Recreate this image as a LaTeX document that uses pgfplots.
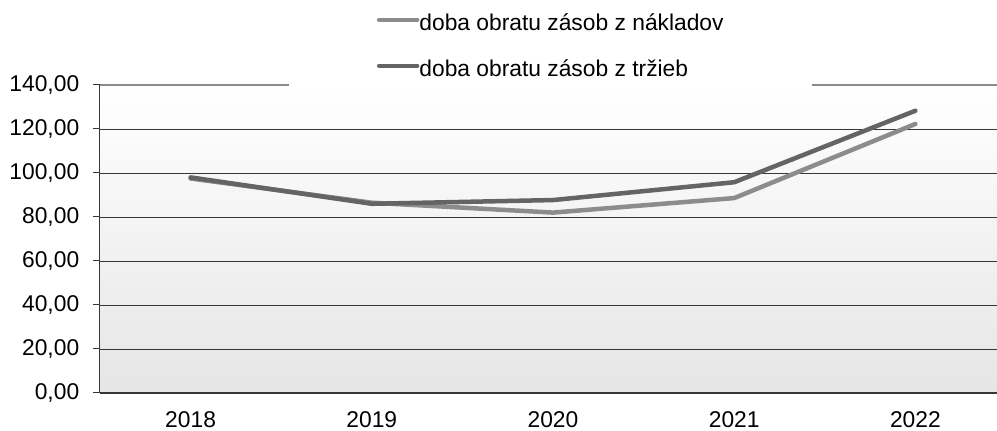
\documentclass[border=0pt]{standalone}
\usepackage{pgfplots}
\pgfplotsset{compat=1.18}
\usepackage{fontspec}
\setmainfont{Liberation Sans}
\definecolor{lightline}{RGB}{140,140,140}
\definecolor{darkline}{RGB}{100,100,100}
\definecolor{gridc}{RGB}{55,55,55}
\begin{document}
\fontsize{22.8}{27}\selectfont
\begin{tikzpicture}
\begin{axis}[
  at={(100pt,38pt)}, anchor=south west,
  scale only axis, width=906pt, height=308pt,
  xmin=-0.5, xmax=4.5, ymin=0, ymax=140,
  axis lines=left, axis line style={-, gridc, line width=1pt},
  axis background/.style={top color=white, bottom color=black!10},
  xtick={0,1,2,3,4},
  xticklabels={2018,2019,2020,2021,2022},
  major x tick style={draw=none},
  extra x ticks={-0.5,0.5,1.5,2.5,3.5},
  extra x tick labels={},
  extra x tick style={tick style={draw=gridc, line width=1pt}, major tick length=7pt, tick align=outside},
  ytick={0,20,...,120},
  extra y ticks={140},
  extra y tick style={grid style={draw=black!45, line width=1.2pt}},
  ymajorgrids, grid style={draw=gridc, line width=0.9pt},
  tick align=outside, major tick length=7pt,
  tick style={draw=gridc, line width=1pt},
  /pgf/number format/fixed, /pgf/number format/fixed zerofill, /pgf/number format/precision=2,
  /pgf/number format/use comma, /pgf/number format/assume math mode=true,
  ticklabel style={font=\fontsize{22.8}{27}\selectfont},
  yticklabel style={xshift=-6pt},
  xticklabel style={yshift=-4pt},
  legend style={at={(axis description cs:0.497,0.99)}, anchor=south, draw=none, fill=white,
    inner xsep=88pt, inner ysep=6pt, row sep=24pt,
    font=\fontsize{22.8}{27}\selectfont,
    nodes={inner sep=0pt, text height=17pt, text depth=5pt, anchor=west}},
  legend cell align=left,
  legend image code/.code={\draw[#1, line cap=round] (0pt,5pt) -- (38pt,5pt);},
]
\addplot[lightline, line width=4.5pt, line join=round, line cap=round] coordinates {(0,97.5) (1,86.5) (2,82) (3,88.6) (4,122.3)};
\addlegendentry{doba obratu zásob z nákladov}
\addplot[darkline, line width=4.5pt, line join=round, line cap=round] coordinates {(0,98) (1,86) (2,87.7) (3,95.8) (4,128.3)};
\addlegendentry{doba obratu zásob z tržieb}
\end{axis}
\pgfresetboundingbox
\path[use as bounding box] (0,0) rectangle (997pt,431pt);
\end{tikzpicture}
\end{document}
